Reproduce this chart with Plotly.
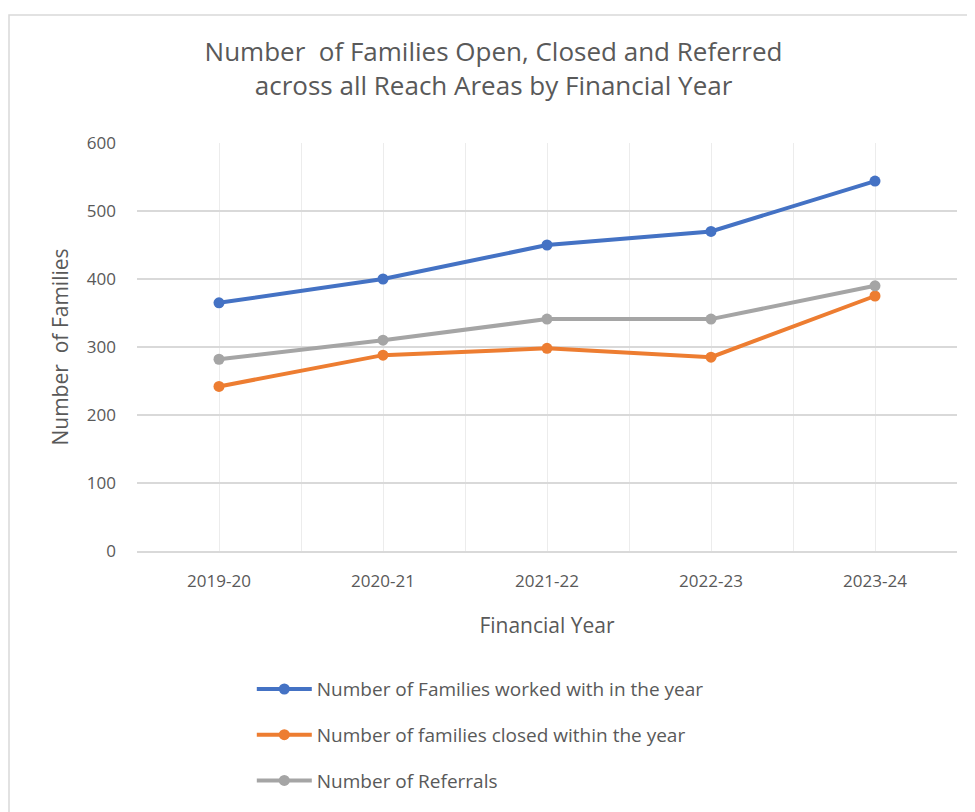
import plotly.graph_objects as go

categories = ["2019-20", "2020-21", "2021-22", "2022-23", "2023-24"]
worked_with = [365, 400, 450, 470, 544]
closed = [242, 288, 298, 285, 375]
referrals = [282, 310, 341, 341, 390]

series_names = [
    "Number of Families worked with in the year",
    "Number of families closed within the year",
    "Number of Referrals",
]
series_colors = ["#4472C4", "#ED7D31", "#A5A5A5"]

FONT = "Open Sans, sans-serif"
TXT = "#595959"

x_idx = list(range(len(categories)))

fig = go.Figure()
for i, (name, vals, col) in enumerate(zip(series_names, [worked_with, closed, referrals], series_colors)):
    fig.add_trace(go.Scatter(
        x=x_idx, y=vals, name=name, mode="lines+markers",
        line=dict(color=col, width=4),
        marker=dict(color=col, size=11, symbol="circle"),
        legendgroup=f"g{i}",
    ))

fig.update_layout(
    width=975, height=812,
    paper_bgcolor="white", plot_bgcolor="white",
    margin=dict(l=129, r=26, t=135, b=269, autoexpand=False),
    title=dict(
        text="Number  of Families Open, Closed and Referred<br>across all Reach Areas by Financial Year",
        x=0.498, xanchor="center", y=0.935, yanchor="top",
        font=dict(family=FONT, size=26, color=TXT),
    ),
    showlegend=True,
    legend=dict(
        orientation="v", x=0.14, xanchor="left", y=-0.292, yanchor="top",
        font=dict(family=FONT, size=19, color=TXT),
        itemwidth=55, traceorder="grouped", tracegroupgap=18, bgcolor="rgba(0,0,0,0)",
    ),
    font=dict(family=FONT, color=TXT),
)

fig.update_xaxes(
    range=[-0.5, 4.5], tickmode="array", tickvals=x_idx, ticktext=categories,
    showgrid=True, gridcolor="#ECECEC", gridwidth=1,
    minor=dict(tickmode="linear", tick0=-0.5, dtick=1, showgrid=True, gridcolor="#ECECEC", gridwidth=1),
    showline=True, linecolor="#D9D9D9", linewidth=1.5,
    zeroline=False, ticks="",
    tickfont=dict(family=FONT, size=17, color=TXT),
    ticklabelstandoff=14,
    title=dict(text="Financial Year", font=dict(family=FONT, size=21, color=TXT), standoff=27),
    fixedrange=True,
)
fig.update_yaxes(
    range=[0, 600], dtick=100, tick0=0,
    showgrid=True, gridcolor="#D9D9D9", gridwidth=1.5,
    zeroline=False, showline=False, ticks="",
    tickfont=dict(family=FONT, size=17, color=TXT),
    title=dict(text="Number  of Families", font=dict(family=FONT, size=21, color=TXT), standoff=12),
    ticklabelstandoff=20,
)

fig.add_shape(type="rect", xref="paper", yref="paper",
              x0=-128/820, x1=1 + 21/820, y0=-269/408 - 0.05, y1=1 + 128/408,
              line=dict(color="#D9D9D9", width=1.5), fillcolor="rgba(0,0,0,0)", layer="below")

fig.write_html("out.html")
